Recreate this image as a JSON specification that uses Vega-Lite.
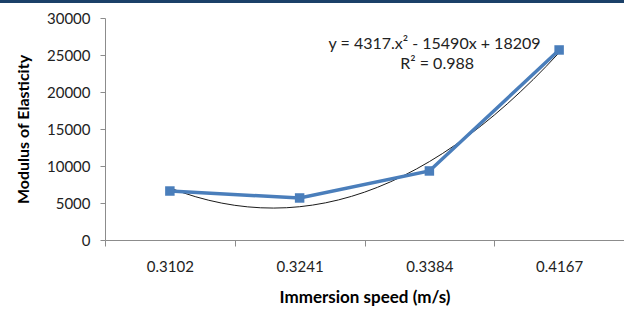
{
  "$schema": "https://vega.github.io/schema/vega-lite/v6.json",
  "width": 519,
  "height": 222,
  "autosize": {"type": "none"},
  "padding": {"left": 105, "top": 18, "right": 0, "bottom": 73},
  "background": "white",
  "config": {
    "view": {"stroke": null},
    "font": "Lato",
    "axis": {
      "domainColor": "#8c8c8c",
      "tickColor": "#8c8c8c",
      "grid": false,
      "labelFont": "Lato",
      "labelFontSize": 15,
      "labelColor": "#222222",
      "labelOverlap": false,
      "titleFont": "Lato",
      "titleFontSize": 16,
      "titleFontWeight": "bold",
      "titleColor": "#000000"
    }
  },
  "datasets": {
    "obs": [
      {"pos": 1, "speed": "0.3102", "val": 6620},
      {"pos": 2, "speed": "0.3241", "val": 5680},
      {"pos": 3, "speed": "0.3384", "val": 9330},
      {"pos": 4, "speed": "0.4167", "val": 25680}
    ],
    "trend": [
      {"pos": 1.0, "val": 7036}, {"pos": 1.1, "val": 6394}, {"pos": 1.2, "val": 5837},
      {"pos": 1.3, "val": 5368}, {"pos": 1.4, "val": 4984}, {"pos": 1.5, "val": 4687},
      {"pos": 1.6, "val": 4477}, {"pos": 1.7, "val": 4352}, {"pos": 1.8, "val": 4314},
      {"pos": 1.9, "val": 4362}, {"pos": 2.0, "val": 4497}, {"pos": 2.1, "val": 4718},
      {"pos": 2.2, "val": 5025}, {"pos": 2.3, "val": 5419}, {"pos": 2.4, "val": 5899},
      {"pos": 2.5, "val": 6465}, {"pos": 2.6, "val": 7118}, {"pos": 2.7, "val": 7857},
      {"pos": 2.8, "val": 8682}, {"pos": 2.9, "val": 9594}, {"pos": 3.0, "val": 10592},
      {"pos": 3.1, "val": 11676}, {"pos": 3.2, "val": 12847}, {"pos": 3.3, "val": 14104},
      {"pos": 3.4, "val": 15448}, {"pos": 3.5, "val": 16877}, {"pos": 3.6, "val": 18393},
      {"pos": 3.7, "val": 19996}, {"pos": 3.8, "val": 21684}, {"pos": 3.9, "val": 23460},
      {"pos": 4.0, "val": 25321}
    ],
    "notes": [
      {"pos": 3.04, "val": 26550, "label": "y = 4317.x² - 15490x + 18209"},
      {"pos": 3.06, "val": 23800, "label": "R² = 0.988"}
    ],
    "band": [
      {"pos": -0.31, "pos2": 4.5, "val": 32250}
    ]
  },
  "encoding": {
    "x": {
      "field": "pos", "type": "quantitative",
      "scale": {"domain": [0.5, 4.5], "nice": false, "zero": false},
      "axis": {
        "values": [0.5, 1, 1.5, 2, 2.5, 3, 3.5, 4, 4.5],
        "title": "Immersion speed (m/s)",
        "titleFontSize": 17,
        "tickSize": 6,
        "tickOpacity": {"condition": {"test": "datum.value % 1 == 0", "value": 0}, "value": 1},
        "labelExpr": "datum.value == 1 ? '0.3102' : datum.value == 2 ? '0.3241' : datum.value == 3 ? '0.3384' : datum.value == 4 ? '0.4167' : ''",
        "labelPadding": 13,
        "titlePadding": 15
      }
    },
    "y": {
      "field": "val", "type": "quantitative",
      "scale": {"domain": [0, 30000], "nice": false},
      "axis": {
        "values": [0, 5000, 10000, 15000, 20000, 25000, 30000],
        "format": "d",
        "title": "Modulus of Elasticity",
        "tickSize": 5,
        "labelPadding": 10,
        "titlePadding": 15
      }
    }
  },
  "layer": [
    {
      "data": {"name": "trend"},
      "mark": {"type": "line", "color": "#1a1a1a", "strokeWidth": 1, "interpolate": "monotone"}
    },
    {
      "data": {"name": "obs"},
      "mark": {"type": "line", "color": "#4a7ebb", "strokeWidth": 3.5}
    },
    {
      "data": {"name": "obs"},
      "mark": {"type": "point", "shape": "square", "filled": true, "color": "#4a7ebb", "size": 90, "opacity": 1}
    },
    {
      "data": {"name": "notes"},
      "mark": {"type": "text", "font": "Lato", "fontSize": 16, "color": "#222222", "align": "center", "baseline": "middle"},
      "encoding": {
        "text": {"field": "label"}
      }
    },
    {
      "data": {"name": "band"},
      "mark": {"type": "rule", "color": "#1b4068", "strokeWidth": 3.5, "clip": false},
      "encoding": {
        "x2": {"field": "pos2"}
      }
    }
  ]
}
